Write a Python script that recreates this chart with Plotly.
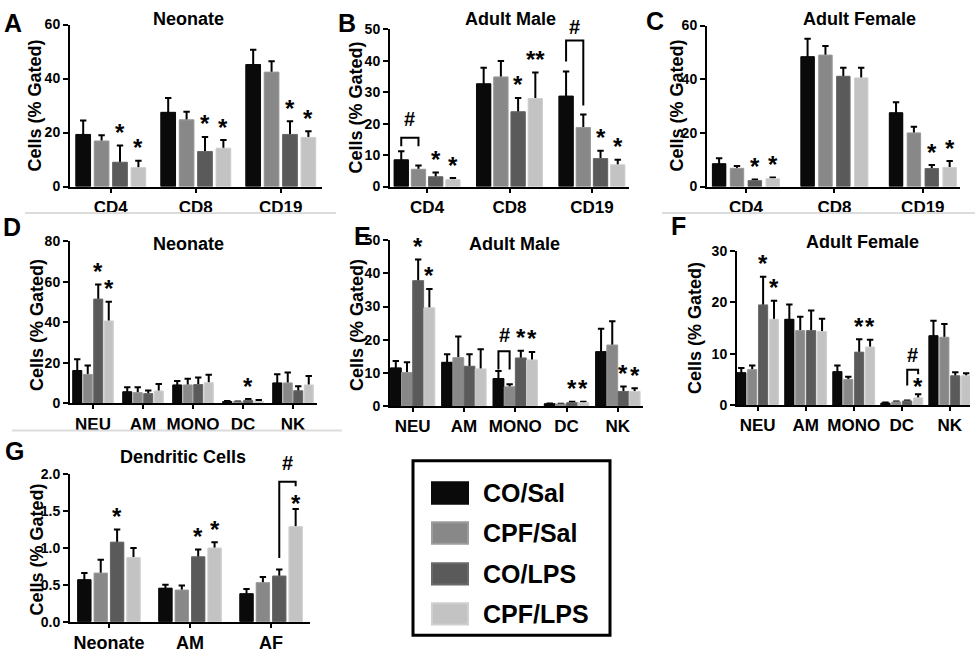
import plotly.graph_objects as go

W, H = 975, 657

series = ["CO/Sal", "CPF/Sal", "CO/LPS", "CPF/LPS"]
colors = ["#0a0a0a", "#888888", "#5a5a5a", "#c3c3c3"]
edge_colors = ["#0a0a0a", "#9c9c9c", "#6a6a6a", "#d0d0d0"]

t_cats = ["CD4", "CD8", "CD19"]
i_cats = ["NEU", "AM", "MONO", "DC", "NK"]
g_cats = ["Neonate", "AM", "AF"]

# y tick labels per panel
a_yticks = [0, 20, 40, 60]
b_yticks = [0, 10, 20, 30, 40, 50]
c_yticks = [0, 20, 40, 60]
d_yticks = [0, 20, 40, 60, 80]
e_yticks = [0, 10, 20, 30, 40, 50]
f_yticks = [0, 10, 20, 30]
g_yticks = [0.0, 0.5, 1.0, 1.5, 2.0]

# A: Neonate T/B cells (mean per series, upper error)
a_mean = [[19.3, 27.5, 45.2], [16.9, 24.7, 42.4], [9.0, 13.0, 19.3], [7.0, 14.2, 18.2]]
a_sem = [[5.2, 5.3, 5.5], [2.1, 3.0, 4.0], [6.2, 5.4, 4.9], [2.6, 3.0, 2.3]]
# B: Adult Male
b_mean = [[8.5, 32.7, 28.8], [5.5, 34.9, 18.8], [3.1, 23.8, 8.9], [2.2, 28.0, 6.9]]
b_sem = [[2.7, 5.1, 7.8], [1.2, 5.1, 4.1], [1.4, 4.4, 2.5], [0.5, 8.3, 1.6]]
# C: Adult Female
c_mean = [[8.5, 48.4, 27.5], [6.8, 49.0, 20.0], [2.2, 41.1, 6.7], [2.9, 40.5, 7.1]]
c_sem = [[2.0, 6.7, 3.9], [0.9, 3.4, 2.3], [0.4, 3.2, 1.3], [0.5, 3.8, 2.4]]
# D: Neonate innate cells
d_mean = [[16.1, 5.6, 9.0, 0.8, 10.0], [14.2, 5.2, 9.0, 0.6, 10.0],
          [51.4, 4.7, 9.2, 1.4, 6.1], [40.6, 6.0, 10.1, 0.8, 9.0]]
d_sem = [[5.6, 2.3, 1.9, 0.2, 4.3], [4.4, 2.7, 3.1, 0.2, 5.1],
         [7.2, 1.6, 3.5, 0.6, 2.3], [9.5, 3.5, 3.9, 0.8, 4.4]]
# E: Adult Male innate cells
e_mean = [[11.5, 13.2, 8.3, 0.7, 16.4], [10.1, 14.6, 5.8, 0.6, 18.4],
          [37.8, 12.0, 14.5, 1.0, 4.4], [29.6, 11.2, 13.9, 1.0, 4.4]]
e_sem = [[2.1, 2.4, 2.3, 0.1, 6.9], [3.1, 6.4, 0.8, 0.1, 7.2],
         [6.4, 3.6, 2.2, 0.3, 1.5], [5.7, 5.9, 2.4, 0.3, 1.0]]
# F: Adult Female innate cells
f_mean = [[6.3, 16.7, 6.5, 0.4, 13.5], [6.9, 14.5, 5.0, 0.6, 13.2],
          [19.5, 14.5, 10.3, 0.8, 5.7], [16.7, 14.3, 11.3, 1.4, 5.7]]
f_sem = [[0.9, 2.9, 1.2, 0.1, 2.9], [0.8, 2.7, 0.5, 0.1, 2.6],
         [5.5, 3.9, 2.5, 0.1, 0.7], [3.6, 2.5, 1.4, 0.7, 0.5]]
# G: Dendritic cells
g_mean = [[0.57, 0.455, 0.38], [0.66, 0.43, 0.53], [1.08, 0.88, 0.62], [0.87, 1.0, 1.29]]
g_sem = [[0.09, 0.045, 0.065], [0.18, 0.06, 0.075], [0.17, 0.10, 0.09], [0.13, 0.08, 0.24]]

# significance marks: (category index, series index, text)
a_stars = [(0, 2, "*"), (0, 3, "*"), (1, 2, "*"), (1, 3, "*"), (2, 2, "*"), (2, 3, "*")]
b_stars = [(0, 2, "*"), (0, 3, "*"), (1, 2, "*"), (1, 3, "**"), (2, 2, "*"), (2, 3, "*")]
c_stars = [(0, 2, "*"), (0, 3, "*"), (2, 2, "*"), (2, 3, "*")]
d_stars = [(0, 2, "*"), (0, 3, "*"), (3, 2, "*")]
e_stars = [(0, 2, "*"), (0, 3, "*"), (2, 2, "*"), (2, 3, "*"), (3, 2, "*"), (3, 3, "*"), (4, 2, "*"), (4, 3, "*")]
f_stars = [(0, 2, "*"), (0, 3, "*"), (2, 2, "*"), (2, 3, "*")]
g_stars = [(0, 2, "*"), (1, 2, "*"), (1, 3, "*")]

# brackets (#): cat, left series, right series, top, left leg bottom, right leg bottom, '#' y
b_brackets = [(0, 0, 1, 15.5, 12.8, 12.8, 21.5), (2, 0, 1, 46.5, 39.8, 25.8, 50.8)]
e_brackets = [(2, 0, 1, 16.5, 11.0, 11.0, 21.5)]
f_brackets = [(3, 2, 3, 6.9, 3.8, 6.0, 9.7)]
g_brackets = [(2, 2, 3, 1.90, 0.865, 1.84, 2.15)]
# stars placed under brackets: (cat, series, y value of star centre)
f_inner = [(3, 3, 4.8)]
g_inner = [(2, 3, 1.69)]

panels = [
    dict(cats=t_cats, mean=a_mean, sem=a_sem, x0=70, x1=322, yt=17, yb=183, yt_vals=a_yticks,
         xr=[-0.48, 2.485], bw=0.173, gap=0.0435, title="Neonate", tpos=(188, 11),
         letter="A", lpos=(13, 15), ylab=(35, 100), stars=a_stars, br=[], inner=[],
         fmt="{:g}", cfs=17),
    dict(cats=t_cats, mean=b_mean, sem=b_sem, x0=390, x1=629, yt=22, yb=183, yt_vals=b_yticks,
         xr=[-0.45, 2.45], bw=0.174, gap=0.035, title="Adult Male", tpos=(510, 11),
         letter="B", lpos=(347, 15), ylab=(356, 102), stars=b_stars, br=b_brackets, inner=[],
         fmt="{:g}", cfs=17),
    dict(cats=t_cats, mean=c_mean, sem=c_sem, x0=707, x1=960, yt=18, yb=183, yt_vals=c_yticks,
         xr=[-0.44, 2.42], bw=0.152, gap=0.05, title="Adult Female", tpos=(859, 11),
         letter="C", lpos=(655, 13), ylab=(677, 100), stars=c_stars, br=[], inner=[],
         fmt="{:g}", cfs=17),
    dict(cats=i_cats, mean=d_mean, sem=d_sem, x0=70, x1=317, yt=239, yb=405, yt_vals=d_yticks,
         xr=[-0.46, 4.48], bw=0.18, gap=0.03, title="Neonate", tpos=(188, 242),
         letter="D", lpos=(12, 224), ylab=(37, 325), stars=d_stars, br=[], inner=[],
         fmt="{:g}", cfs=17),
    dict(cats=i_cats, mean=e_mean, sem=e_sem, x0=390, x1=643, yt=238, yb=408, yt_vals=e_yticks,
         xr=[-0.44, 4.49], bw=0.212, gap=0.006, title="Adult Male", tpos=(514, 242),
         letter="E", lpos=(362, 234), ylab=(357, 325), stars=e_stars, br=e_brackets, inner=[],
         fmt="{:g}", cfs=17),
    dict(cats=i_cats, mean=f_mean, sem=f_sem, x0=737, x1=970, yt=249, yb=407, yt_vals=f_yticks,
         xr=[-0.43, 4.42], bw=0.19, gap=0.037, title="Adult Female", tpos=(862, 240),
         letter="F", lpos=(678, 223), ylab=(695, 328), stars=f_stars, br=f_brackets,
         inner=f_inner, fmt="{:g}", cfs=17),
    dict(cats=g_cats, mean=g_mean, sem=g_sem, x0=70, x1=310, yt=478, yb=629, yt_vals=g_yticks,
         xr=[-0.48, 2.48], bw=0.165, gap=0.037, title="Dendritic Cells", tpos=(183, 460),
         letter="G", lpos=(14, 454), ylab=(37, 555), stars=g_stars, br=g_brackets,
         inner=g_inner, fmt="{:.1f}", cfs=18),
]

FONT = "Liberation Sans, Arial, sans-serif"


def px(x):
    return x / W


def py(y):
    return 1 - y / H


def bar_offset(p, s):
    span = 4 * p["bw"] + 3 * p["gap"]
    return -span / 2 + s * (p["bw"] + p["gap"])


def bar_center(p, s):
    return bar_offset(p, s) + p["bw"] / 2


fig = go.Figure()
layout = dict(width=W, height=H, margin=dict(l=0, r=0, t=0, b=0),
              paper_bgcolor="white", plot_bgcolor="white", barmode="group",
              showlegend=False, font=dict(family=FONT, color="black"))
annotations = []
shapes = []

for i, p in enumerate(panels):
    n = i + 1
    xa = "x" if n == 1 else f"x{n}"
    ya = "y" if n == 1 else f"y{n}"
    ymax = p["yt_vals"][-1]
    # bars with error bars first; identical cover bars drawn on top hide the lower stems
    for s in range(4):
        fig.add_trace(go.Bar(
            x=p["cats"], y=p["mean"][s], name=series[s],
            offset=bar_offset(p, s), width=p["bw"],
            marker=dict(color=colors[s], line=dict(width=0)),
            error_y=dict(type="data", symmetric=False, array=p["sem"][s],
                         arrayminus=[m * 0.5 for m in p["mean"][s]],
                         color="black", thickness=2, width=3.2),
            xaxis=xa, yaxis=ya, showlegend=False))
    for s in range(4):
        fig.add_trace(go.Bar(
            x=p["cats"], y=p["mean"][s], name=series[s],
            offset=bar_offset(p, s), width=p["bw"],
            marker=dict(color=colors[s], line=dict(color=edge_colors[s], width=1)),
            xaxis=xa, yaxis=ya, showlegend=False))

    layout[f"xaxis{n if n > 1 else ''}"] = dict(
        domain=[px(p["x0"]), px(p["x1"])], anchor=ya, type="category",
        range=p["xr"], showline=True, linecolor="black", linewidth=2,
        ticks="outside", ticklen=4, tickwidth=2, tickcolor="black",
        tickmode="array", tickvals=p["cats"],
        ticktext=[f"<b>{c}</b>" for c in p["cats"]],
        showgrid=False, zeroline=False,
        tickfont=dict(family=FONT, size=p["cfs"], color="black", weight="bold"))
    layout[f"yaxis{n if n > 1 else ''}"] = dict(
        domain=[py(p["yb"]), py(p["yt"])], anchor=xa, range=[0, ymax],
        tickmode="array", tickvals=p["yt_vals"],
        ticktext=[f"<b>{p['fmt'].format(v)}</b>" for v in p["yt_vals"]],
        showline=True, linecolor="black", linewidth=2,
        ticks="outside", ticklen=5, tickwidth=2, tickcolor="black",
        showgrid=False, zeroline=False,
        tickfont=dict(family=FONT, size=14, color="black", weight="bold"))

    # panel title, letter, y-axis title
    annotations.append(dict(x=px(p["tpos"][0]), y=py(p["tpos"][1]), xref="paper", yref="paper",
                            text=f"<b>{p['title']}</b>", showarrow=False, xanchor="center",
                            yanchor="middle", font=dict(family=FONT, size=18)))
    annotations.append(dict(x=px(p["lpos"][0]), y=py(p["lpos"][1]), xref="paper", yref="paper",
                            text=f"<b>{p['letter']}</b>", showarrow=False, xanchor="center",
                            yanchor="middle", font=dict(family=FONT, size=25)))
    annotations.append(dict(x=px(p["ylab"][0]), y=py(p["ylab"][1]), xref="paper", yref="paper",
                            text="<b>Cells (% Gated)</b>", showarrow=False, textangle=-90,
                            xanchor="center", yanchor="middle", font=dict(family=FONT, size=18)))

    # stars above error bars
    for (c, s, t) in p["stars"]:
        annotations.append(dict(x=c + bar_center(p, s),
                                y=(p["mean"][s][c] + p["sem"][s][c]) / ymax,
                                xref=xa, yref=f"{ya} domain", text=f"<b>{t}</b>",
                                showarrow=False, xanchor="center", yanchor="middle", yshift=13,
                                font=dict(family=FONT, size=24)))
    for (c, s, yv) in p["inner"]:
        annotations.append(dict(x=c + bar_center(p, s), y=yv / ymax, xref=xa,
                                yref=f"{ya} domain", text="<b>*</b>", showarrow=False,
                                xanchor="center", yanchor="middle", yshift=-6,
                                font=dict(family=FONT, size=24)))
    # brackets
    for (c, sl, sr, top, lb, rb, hy) in p["br"]:
        xl = c + bar_center(p, sl)
        xr_ = c + bar_center(p, sr)
        shapes.append(dict(type="path", xref=xa, yref=ya,
                           path=f"M {xl} {lb} L {xl} {top} L {xr_} {top} L {xr_} {rb}",
                           line=dict(color="black", width=2)))
        annotations.append(dict(x=(xl + xr_) / 2, y=hy / ymax, xref=xa, yref=f"{ya} domain",
                                text="<b>#</b>", showarrow=False, xanchor="center",
                                yanchor="middle", font=dict(family=FONT, size=20)))

# separator lines
for (x0, x1, y) in [(25, 336, 210), (662, 975, 210), (12, 342, 433)]:
    shapes.append(dict(type="line", xref="paper", yref="paper", x0=px(x0), x1=px(x1),
                       y0=py(y), y1=py(y), line=dict(color="#dcdcdc", width=2)))

# legend box
shapes.append(dict(type="rect", xref="paper", yref="paper", x0=px(413), x1=px(610),
                   y0=py(643), y1=py(464), line=dict(color="black", width=3),
                   fillcolor="rgba(0,0,0,0)"))
for s, (top, bot) in enumerate([(486, 508), (527, 549), (569, 591), (610, 632)]):
    shapes.append(dict(type="rect", xref="paper", yref="paper", x0=px(432), x1=px(468),
                       y0=py(bot), y1=py(top), fillcolor=colors[s],
                       line=dict(color=edge_colors[s], width=2)))
    annotations.append(dict(x=px(481), y=py((top + bot) / 2), xref="paper", yref="paper",
                            text=f"<b>{series[s]}</b>", showarrow=False, xanchor="left",
                            yanchor="middle", font=dict(family=FONT, size=25)))

layout["annotations"] = annotations
layout["shapes"] = shapes
fig.update_layout(**layout)
fig.write_html("out.html", config={"displayModeBar": False},
               post_script="document.body.style.margin='0';document.body.style.padding='0';")
